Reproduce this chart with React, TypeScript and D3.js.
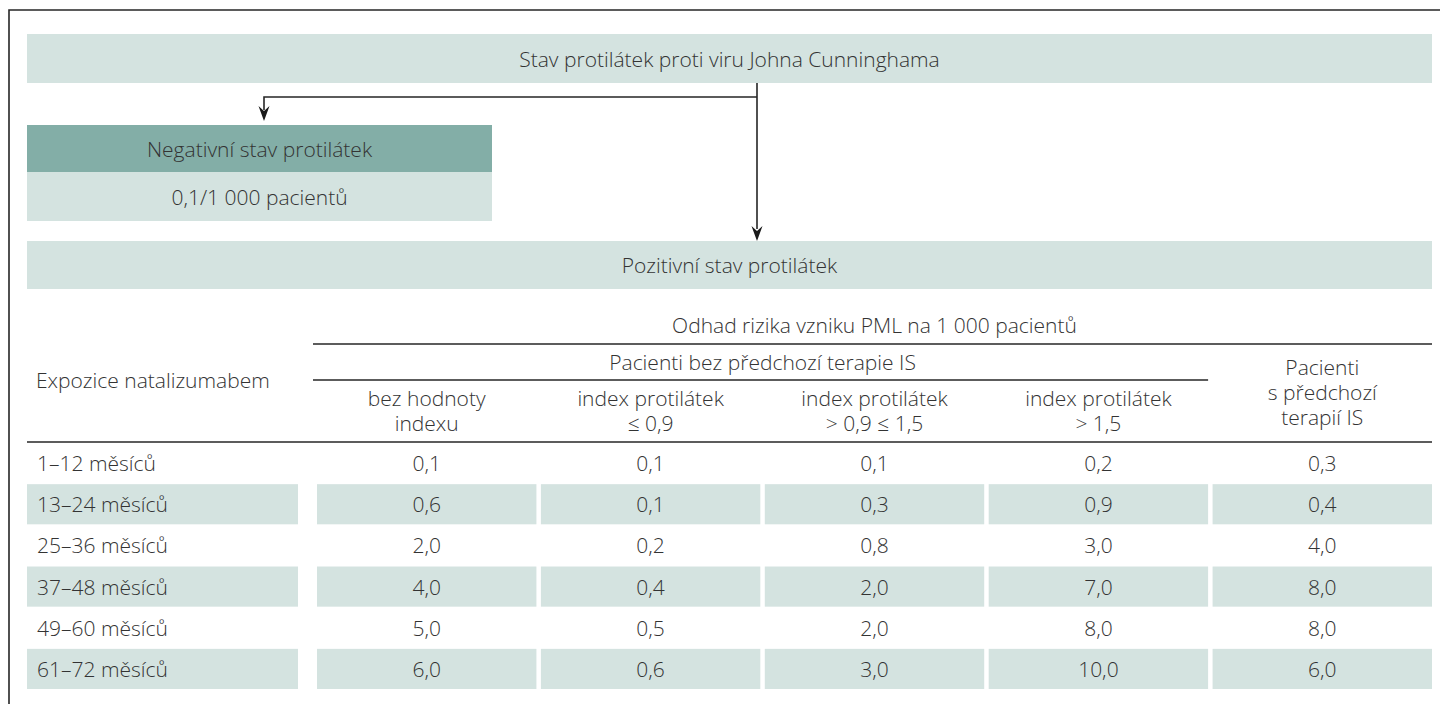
import React from 'react';
import * as d3 from 'd3';

// chart texts and values
const topTitle = 'Stav protilátek proti viru Johna Cunninghama';
const negativeTitle = 'Negativní stav protilátek';
const negativeValue = '0,1/1 000 pacientů';
const positiveTitle = 'Pozitivní stav protilátek';
const riskTitle = 'Odhad rizika vzniku PML na 1 000 pacientů';
const groupTitle = 'Pacienti bez předchozí terapie IS';
const rowHeader = 'Expozice natalizumabem';

const columnHeaders: string[][] = [
  ['bez hodnoty', 'indexu'],
  ['index protilátek', '≤ 0,9'],
  ['index protilátek', '> 0,9 ≤ 1,5'],
  ['index protilátek', '> 1,5'],
  ['Pacienti', 's předchozí', 'terapií IS'],
];

const rowLabels = [
  '1–12 měsíců',
  '13–24 měsíců',
  '25–36 měsíců',
  '37–48 měsíců',
  '49–60 měsíců',
  '61–72 měsíců',
];

const noIndex = [0.1, 0.6, 2.0, 4.0, 5.0, 6.0];
const indexLow = [0.1, 0.1, 0.2, 0.4, 0.5, 0.6];
const indexMid = [0.1, 0.3, 0.8, 2.0, 2.0, 3.0];
const indexHigh = [0.2, 0.9, 3.0, 7.0, 8.0, 10.0];
const priorIS = [0.3, 0.4, 4.0, 8.0, 8.0, 6.0];

const series = [noIndex, indexLow, indexMid, indexHigh, priorIS];

const LIGHT = '#d4e3e0';
const DARK = '#83aea7';
const TEXT = '#333333';
const FONT = "'Open Sans', 'Noto Sans', sans-serif";
const FS = 21;

const fmt = (v: number) => d3.format('.1f')(v).replace('.', ',');

const App = () => {
  const width = 1440;
  const height = 704;

  const left = 27;
  const right = 1432;
  const labelRight = 298;
  const colStart = 317;

  const xCol = d3
    .scaleBand<number>()
    .domain(d3.range(series.length))
    .range([colStart, right])
    .paddingInner(0.02);

  const yRow = d3
    .scaleBand<string>()
    .domain(rowLabels)
    .range([443, 689])
    .paddingInner(0.025);

  const cx = (i: number) => (xCol(i) ?? 0) + xCol.bandwidth() / 2;
  const groupEnd = (xCol(3) ?? 0) + xCol.bandwidth();

  const arrowHead = (x: number, tip: number) =>
    `M${x},${tip} L${x - 5.5},${tip - 15} L${x},${tip - 10} L${x + 5.5},${tip - 15} Z`;

  const splitX = 757;
  const negX = 264;

  const txt = {
    fontFamily: FONT,
    fontSize: FS,
    fill: TEXT,
    fontWeight: 300,
  } as const;

  return (
    <div style={{ position: 'absolute', left: 0, top: 0 }}>
      <svg width={width} height={height} style={{ display: 'block' }}>
        <rect width={width} height={height} fill="#fff" />
        {/* frame */}
        <path d={`M9,${height} L9,10 L${width},10`} fill="none" stroke="#262626" strokeWidth={1.6} />

        {/* top box */}
        <rect x={left} y={34} width={right - left} height={49} fill={LIGHT} />
        <text {...txt} x={(left + right) / 2} y={58.5} textAnchor="middle" dominantBaseline="central">
          {topTitle}
        </text>

        {/* connectors */}
        <path
          d={`M${splitX},83 L${splitX},229 M${splitX},97 L${negX},97 L${negX},110`}
          fill="none"
          stroke="#262626"
          strokeWidth={1.6}
        />
        <path d={arrowHead(negX, 121)} fill="#1a1a1a" />
        <path d={arrowHead(splitX, 241)} fill="#1a1a1a" />

        {/* negative box */}
        <rect x={left} y={125} width={492 - left} height={47} fill={DARK} />
        <rect x={left} y={172} width={492 - left} height={49} fill={LIGHT} />
        <text {...txt} x={(left + 492) / 2} y={148.5} textAnchor="middle" dominantBaseline="central">
          {negativeTitle}
        </text>
        <text {...txt} x={(left + 492) / 2} y={196.5} textAnchor="middle" dominantBaseline="central">
          {negativeValue}
        </text>

        {/* positive box */}
        <rect x={left} y={241} width={right - left} height={48} fill={LIGHT} />
        <text {...txt} x={(left + right) / 2} y={265} textAnchor="middle" dominantBaseline="central">
          {positiveTitle}
        </text>

        {/* table header */}
        <text {...txt} x={(colStart + right) / 2} y={325} textAnchor="middle" dominantBaseline="central">
          {riskTitle}
        </text>
        <line x1={313} x2={right} y1={344} y2={344} stroke="#262626" strokeWidth={1.4} />
        <text {...txt} x={(colStart + groupEnd) / 2} y={362} textAnchor="middle" dominantBaseline="central">
          {groupTitle}
        </text>
        <line x1={313} x2={groupEnd} y1={380} y2={380} stroke="#262626" strokeWidth={1.4} />
        <text {...txt} x={36} y={380} dominantBaseline="central">
          {rowHeader}
        </text>
        {columnHeaders.map((lines, i) => {
          const y0 = lines.length === 3 ? 367 : 398;
          return (
            <text key={i} {...txt} x={cx(i)} textAnchor="middle">
              {lines.map((l, j) => (
                <tspan key={j} x={cx(i)} y={y0 + j * 25} dominantBaseline="central">
                  {l}
                </tspan>
              ))}
            </text>
          );
        })}
        <line x1={left} x2={right} y1={442} y2={442} stroke="#262626" strokeWidth={1.4} />

        {/* rows */}
        {rowLabels.map((label, r) => {
          const y = yRow(label) ?? 0;
          const h = yRow.bandwidth();
          const shaded = r % 2 === 1;
          return (
            <g key={label}>
              {shaded && <rect x={left} y={y} width={labelRight - left} height={h} fill={LIGHT} />}
              {shaded &&
                series.map((_, c) => (
                  <rect key={c} x={xCol(c)} y={y} width={xCol.bandwidth()} height={h} fill={LIGHT} />
                ))}
              <text {...txt} x={37} y={y + h / 2} dominantBaseline="central">
                {label}
              </text>
              {series.map((s, c) => (
                <text key={c} {...txt} x={cx(c)} y={y + h / 2} textAnchor="middle" dominantBaseline="central">
                  {fmt(s[r])}
                </text>
              ))}
            </g>
          );
        })}
      </svg>
    </div>
  );
};

export default App;
